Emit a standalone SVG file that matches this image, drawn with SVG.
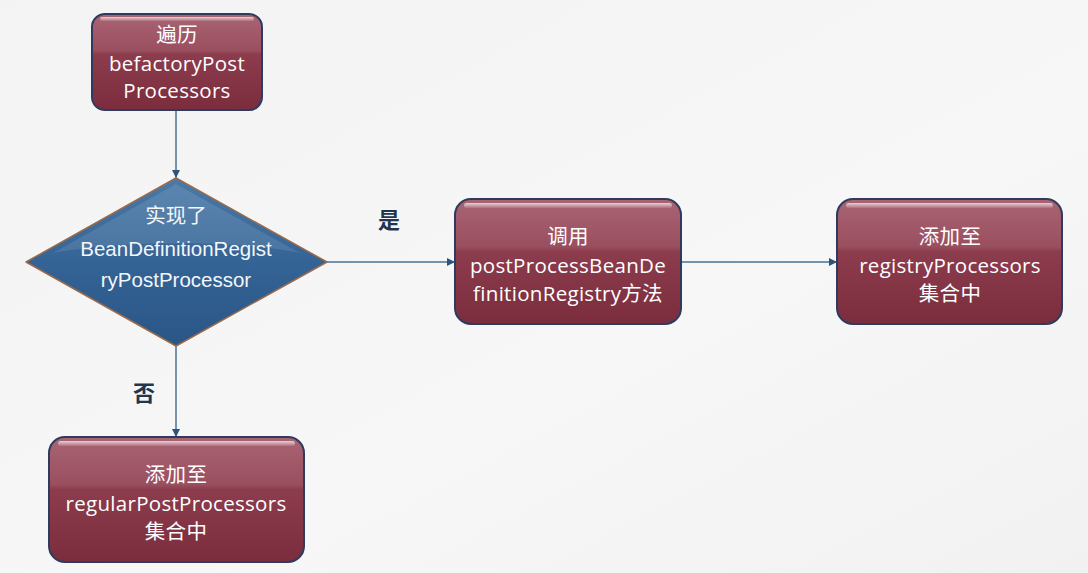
<svg xmlns="http://www.w3.org/2000/svg" width="1088" height="573" viewBox="0 0 1088 573">
<defs>
<linearGradient id="bg" x1="0" y1="0" x2="1" y2="1">
<stop offset="0" stop-color="#f3f3f3"/><stop offset="0.6" stop-color="#f7f7f7"/><stop offset="1" stop-color="#f1f1f1"/>
</linearGradient>
<linearGradient id="box" x1="0" y1="0" x2="0" y2="1">
<stop offset="0" stop-color="#a96473"/><stop offset="0.38" stop-color="#9a4f5f"/><stop offset="0.42" stop-color="#8c3c4d"/><stop offset="1" stop-color="#7b2d3d"/>
</linearGradient>
<linearGradient id="gloss" x1="0" y1="0" x2="0" y2="1">
<stop offset="0" stop-color="#ffffff" stop-opacity="0.7"/><stop offset="1" stop-color="#ffffff" stop-opacity="0.1"/>
</linearGradient>
<linearGradient id="dia" x1="0" y1="0" x2="0" y2="1">
<stop offset="0" stop-color="#4a7aa8"/><stop offset="0.5" stop-color="#346395"/><stop offset="1" stop-color="#2a5686"/>
</linearGradient>
<marker id="arr" viewBox="0 0 10 10" refX="10" refY="5" markerWidth="8" markerHeight="8" markerUnits="userSpaceOnUse" orient="auto">
<path d="M0,0 L10,5 L0,10 z" fill="#2f5479"/>
</marker>
<style>
.box{fill:url(#box);stroke:#2e3b5e;stroke-width:2}
.gl{fill:url(#gloss)}
.t{font-family:"Open Sans","Noto Sans CJK SC",sans-serif;font-size:20.5px;letter-spacing:0.3px;fill:#ffffff;text-anchor:middle}
.td{font-family:"Liberation Sans","Noto Sans CJK SC",sans-serif;font-size:20.5px;fill:#f4f6f8;text-anchor:middle}
.lbl{font-family:"Noto Sans CJK SC",sans-serif;font-size:22px;font-weight:bold;fill:#1f3550;text-anchor:middle}
.c{fill:none;stroke:#4a7096;stroke-width:1.5;marker-end:url(#arr)}
</style>
</defs>
<rect width="1088" height="573" fill="url(#bg)"/>
<g id="connectors">
<line class="c" x1="176" y1="110" x2="176" y2="178"/>
<line class="c" x1="327" y1="262" x2="455" y2="262"/>
<line class="c" x1="681" y1="262" x2="837" y2="262"/>
<line class="c" x1="176" y1="346" x2="176" y2="437"/>
<text class="lbl" x="389" y="228">是</text>
<text class="lbl" x="144" y="401">否</text>
</g>
<g id="n1">
<rect class="box" x="92" y="14" width="170" height="96" rx="13"/>
<rect class="gl" x="100" y="17" width="154" height="4" rx="2"/>
<text class="t" x="177" y="42">遍历</text>
<text class="t" x="177" y="71">befactoryPost</text>
<text class="t" x="177" y="98">Processors</text>
</g>
<g id="n2">
<path d="M176,178 L327,262 L176,346 L26,262 Z" fill="url(#dia)" stroke="#9a6a4a" stroke-width="1.5" stroke-linejoin="round"/>
<path d="M176,184 L300,253 C240,240 120,240 53,253 Z" fill="#ffffff" opacity="0.1"/>
<text class="td" x="176" y="223">实现了</text>
<text class="td" x="176" y="256">BeanDefinitionRegist</text>
<text class="td" x="176" y="287">ryPostProcessor</text>
</g>
<g id="n3">
<rect class="box" x="455" y="199" width="226" height="125" rx="16"/>
<rect class="gl" x="464" y="203" width="208" height="5" rx="2.5"/>
<text class="t" x="568" y="244">调用</text>
<text class="t" x="568" y="273">postProcessBeanDe</text>
<text class="t" x="568" y="301">finitionRegistry方法</text>
</g>
<g id="n4">
<rect class="box" x="837" y="199" width="225" height="125" rx="16"/>
<rect class="gl" x="846" y="203" width="207" height="5" rx="2.5"/>
<text class="t" x="950" y="244">添加至</text>
<text class="t" x="950" y="273">registryProcessors</text>
<text class="t" x="950" y="301">集合中</text>
</g>
<g id="n5">
<rect class="box" x="49" y="437" width="255" height="125" rx="16"/>
<rect class="gl" x="58" y="441" width="237" height="5" rx="2.5"/>
<text class="t" x="176" y="482">添加至</text>
<text class="t" x="176" y="511">regularPostProcessors</text>
<text class="t" x="176" y="539">集合中</text>
</g>
</svg>
